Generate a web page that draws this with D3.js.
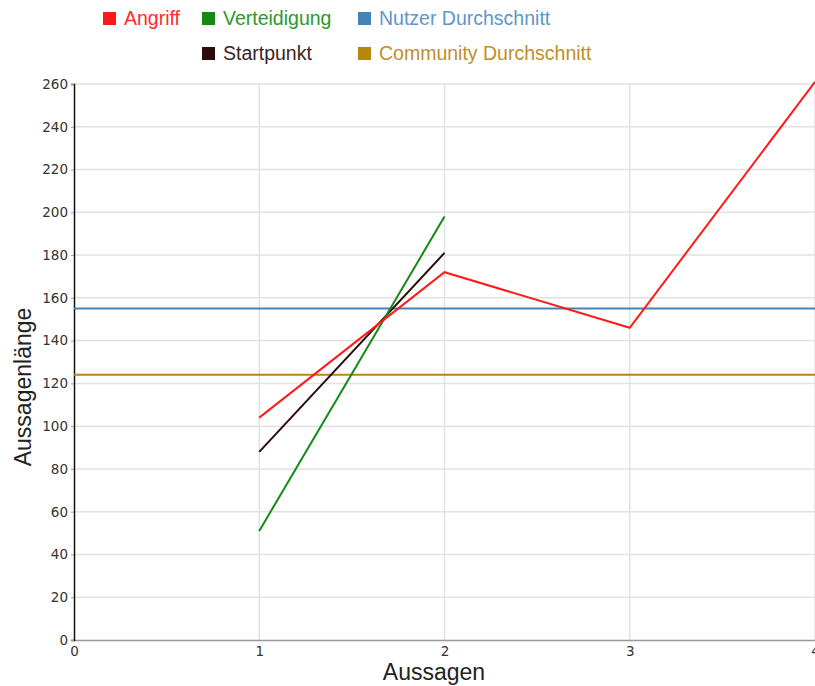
<!DOCTYPE html>
<html>
<head>
<meta charset="utf-8">
<script src="https://cdn.jsdelivr.net/npm/d3@7"></script>
<style>
  body { margin: 0; background: #fff; }
  svg { display: block; }
</style>
</head>
<body>
<div id="chart"></div>
<script>
// data
const xTicks = [0, 1, 2, 3, 4];
const yTicks = [0, 20, 40, 60, 80, 100, 120, 140, 160, 180, 200, 220, 240, 260];
const angriff = [[1, 104], [2, 172], [3, 146], [4, 261]];
const verteidigung = [[1, 51], [2, 198]];
const startpunkt = [[1, 88], [2, 181]];
const nutzerAvg = 155;
const communityAvg = 124;

const seriesNames = ["Angriff", "Verteidigung", "Nutzer Durchschnitt", "Startpunkt", "Community Durchschnitt"];
const seriesColors = ["#ff1a1a", "#148a14", "#4682b4", "#2b0b0b", "#b8860b"];
const textColors = ["#ff2a2a", "#2a9a2a", "#5b97cc", "#3a2424", "#c08e2a"];

const W = 815, H = 686;
const margin = {top: 84, right: 0, bottom: 46, left: 74};
const width = W - margin.left - margin.right,
    height = H - margin.top - margin.bottom;

const svg = d3.select("#chart")
    .append("svg")
    .attr("width", W)
    .attr("height", H);

const g = svg.append("g")
    .attr("transform", `translate(${margin.left}, ${margin.top})`);

const x = d3.scaleLinear().domain([0, 4]).range([0, width]);
const y = d3.scaleLinear().domain([0, 260]).range([height, 0]);

// grid
g.append("g").selectAll("line")
    .data(yTicks.filter(d => d > 0))
    .join("line")
    .attr("x1", 0).attr("x2", width)
    .attr("y1", d => y(d)).attr("y2", d => y(d))
    .style("stroke", "#e2e2e2").style("stroke-width", 1.5);
g.append("g").selectAll("line")
    .data(xTicks.filter(d => d > 0))
    .join("line")
    .attr("x1", d => x(d)).attr("x2", d => x(d))
    .attr("y1", 0).attr("y2", height)
    .style("stroke", "#e2e2e2").style("stroke-width", 1.5);

// x axis
const xAxis = g.append("g")
    .attr("transform", `translate(0, ${height})`)
    .call(d3.axisBottom(x).tickValues(xTicks).tickSize(0).tickPadding(6).tickFormat(d3.format("d")));
xAxis.select(".domain").style("stroke", "#999").style("stroke-width", 1.5);
xAxis.selectAll("text").attr("font-size", 13.5).attr("font-family", "DejaVu Sans").style("fill", "#333");

// y axis
const yAxis = g.append("g")
    .call(d3.axisLeft(y).tickValues(yTicks).tickSize(3).tickPadding(3));
yAxis.select(".domain").style("stroke", "#111").style("stroke-width", 1.5);
yAxis.selectAll(".tick line").style("stroke", "#999");
yAxis.selectAll("text").attr("font-size", 13.5).attr("font-family", "DejaVu Sans").style("fill", "#333");

// average lines
g.append("line")
    .attr("x1", 0).attr("x2", width)
    .attr("y1", y(nutzerAvg)).attr("y2", y(nutzerAvg))
    .style("stroke", seriesColors[2]).style("stroke-width", 2);
g.append("line")
    .attr("x1", 0).attr("x2", width)
    .attr("y1", y(communityAvg)).attr("y2", y(communityAvg))
    .style("stroke", seriesColors[4]).style("stroke-width", 2);

// series lines
const line = d3.line()
    .x(d => x(d[0]))
    .y(d => y(d[1]));

[[startpunkt, seriesColors[3]], [verteidigung, seriesColors[1]], [angriff, seriesColors[0]]]
  .forEach(([data, col]) => {
    g.append("path")
        .datum(data)
        .attr("d", line)
        .style("fill", "none")
        .style("stroke", col)
        .style("stroke-width", 2);
  });

// axis titles
svg.append("text")
    .attr("x", 434)
    .attr("y", 680)
    .attr("text-anchor", "middle")
    .attr("font-family", "Liberation Sans")
    .attr("font-size", 23)
    .style("fill", "#222")
    .text("Aussagen");

svg.append("text")
    .attr("transform", "translate(31, 387) rotate(-90)")
    .attr("text-anchor", "middle")
    .attr("font-family", "Liberation Sans")
    .attr("font-size", 23)
    .style("fill", "#222")
    .text("Aussagenlänge");

// legend
const legendPos = [[103, 18], [202, 18], [358, 18], [202, 53], [358, 53]];
const legend = svg.append("g");
seriesNames.forEach((name, i) => {
    const [lx, ly] = legendPos[i];
    legend.append("rect")
        .attr("x", lx).attr("y", ly - 6)
        .attr("width", 13).attr("height", 13)
        .style("fill", seriesColors[i]);
    legend.append("text")
        .attr("x", lx + 21).attr("y", ly + 6.5)
        .attr("font-family", "Liberation Sans")
        .attr("font-size", 19.5)
        .style("fill", textColors[i])
        .text(name);
});
</script>
</body>
</html>
